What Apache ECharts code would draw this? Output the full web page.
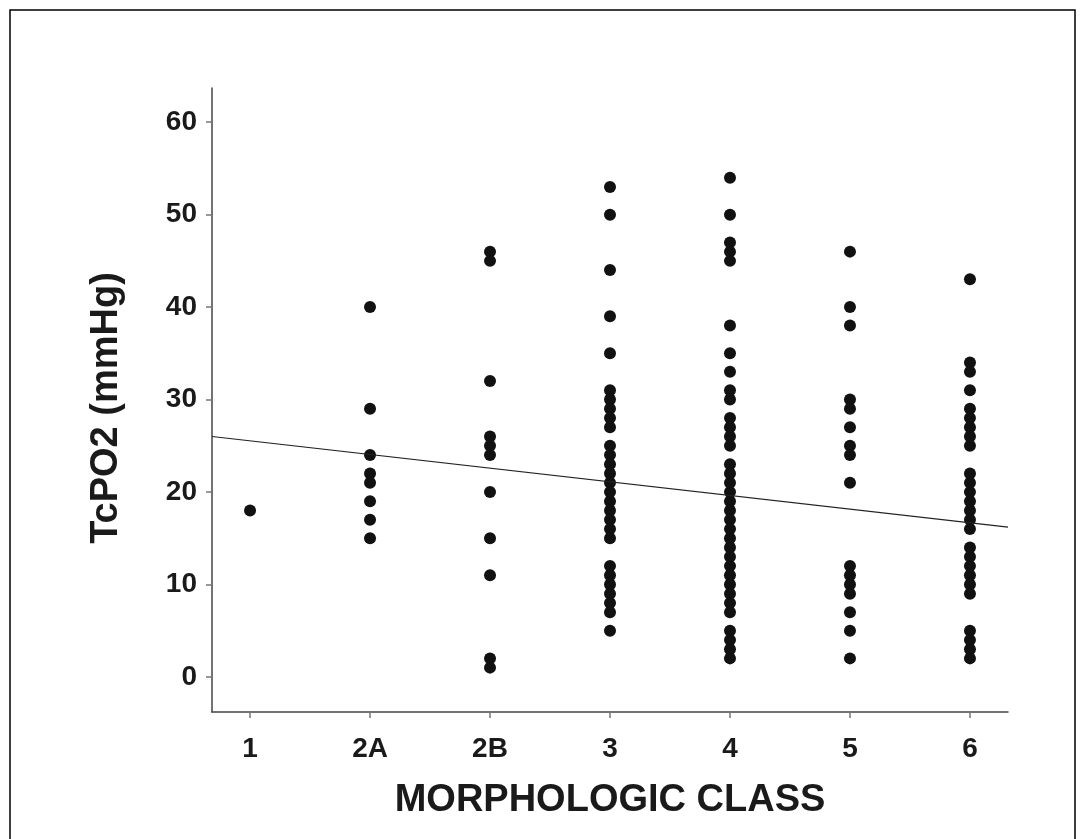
<!DOCTYPE html>
<html>
<head>
<meta charset="utf-8">
<style>
html,body{margin:0;padding:0;background:#fff;}
#c{width:1084px;height:839px;}
</style>
<script src="https://cdn.jsdelivr.net/npm/echarts@6/dist/echarts.min.js"></script>
</head>
<body>
<div id="c"></div>
<script>
// ---- data ----
var classLabels = ['1', '2A', '2B', '3', '4', '5', '6'];
var yTicks = [0, 10, 20, 30, 40, 50, 60];
var class1  = [18];
var class2A = [40, 29, 24, 22, 21, 19, 17, 15];
var class2B = [46, 45, 32, 26, 25, 24, 20, 15, 11, 2, 1];
var class3  = [53, 50, 44, 39, 35, 31, 30, 29, 28, 27, 25, 24, 23, 22, 21, 20, 19, 18, 17, 16, 15, 12, 11, 10, 9, 8, 7, 5];
var class4  = [54, 50, 47, 46, 45, 38, 35, 33, 31, 30, 28, 27, 26, 25, 23, 22, 21, 20, 19, 18, 17, 16, 15, 14, 13, 12, 11, 10, 9, 8, 7, 5, 4, 3, 2];
var class5  = [46, 40, 38, 30, 29, 27, 25, 24, 21, 12, 11, 10, 9, 7, 5, 2];
var class6  = [43, 34, 33, 31, 29, 28, 27, 26, 25, 22, 21, 20, 19, 18, 17, 16, 14, 13, 12, 11, 10, 9, 5, 4, 3, 2];
var xRange = [0.683, 7.317];
var fitLineY = [26.0, 16.2];   // regression line value at left / right end of x axis

var groups = [class1, class2A, class2B, class3, class4, class5, class6];
var points = [];
groups.forEach(function (arr, i) {
  arr.forEach(function (v) { points.push([i + 1, v]); });
});

var chart = echarts.init(document.getElementById('c'), null, {renderer: 'canvas'});
var font = '"Liberation Sans", Arial, sans-serif';
var txt = '#1a1a1a';
chart.setOption({
  animation: false,
  backgroundColor: '#ffffff',
  grid: {left: 212, top: 88, right: 76, bottom: 127, containLabel: false},
  xAxis: {
    type: 'value', min: xRange[0], max: xRange[1],
    name: 'MORPHOLOGIC CLASS', nameLocation: 'middle', nameGap: 70,
    nameTextStyle: {fontFamily: font, fontWeight: 'bold', fontSize: 38, color: txt},
    axisLine: {show: true, onZero: false, lineStyle: {color: '#444', width: 1.5}},
    axisTick: {show: true, length: 6, customValues: [1, 2, 3, 4, 5, 6, 7], lineStyle: {color: '#777', width: 1.5}},
    axisLabel: {customValues: [1, 2, 3, 4, 5, 6, 7], margin: 23, fontFamily: font, fontWeight: 'bold', fontSize: 28, color: txt,
      formatter: function (v) { return classLabels[Math.round(v) - 1]; }},
    splitLine: {show: false}
  },
  yAxis: {
    type: 'value', min: -3.8, max: 63.7,
    name: 'TcPO2 (mmHg)', nameLocation: 'middle', nameGap: 86, nameRotate: 90,
    nameTextStyle: {fontFamily: font, fontWeight: 'bold', fontSize: 38, color: txt, padding: [0, 16, 0, 0]},
    axisLine: {show: true, onZero: false, lineStyle: {color: '#444', width: 1.5}},
    axisTick: {show: true, length: 6, customValues: yTicks, lineStyle: {color: '#777', width: 1.5}},
    axisLabel: {customValues: yTicks, margin: 15, fontFamily: font, fontWeight: 'bold', fontSize: 28, color: txt},
    splitLine: {show: false}
  },
  graphic: [{
    type: 'rect', shape: {x: 10, y: 10, width: 1065, height: 850},
    style: {fill: null, stroke: '#000', lineWidth: 1.5}, silent: true
  }],
  series: [{
    type: 'scatter', data: points, symbol: 'circle', symbolSize: 12,
    itemStyle: {color: '#111', opacity: 1}
  }, {
    type: 'line', data: [[xRange[0], fitLineY[0]], [xRange[1], fitLineY[1]]],
    symbol: 'none', lineStyle: {color: '#222', width: 1.2}, z: 3
  }]
});
</script>
</body>
</html>
